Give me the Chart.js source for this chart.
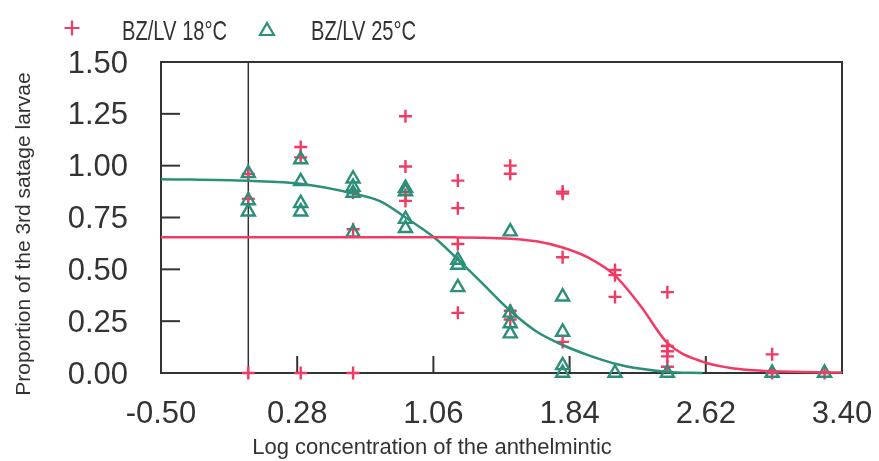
<!DOCTYPE html>
<html>
<head>
<meta charset="utf-8">
<script src="https://cdn.jsdelivr.net/npm/chart.js"></script>
<style>
  html, body { margin: 0; padding: 0; background: #fff; }
  canvas { display: block; }
</style>
</head>
<body>
<canvas id="doseChart" width="879" height="461"></canvas>
<script>
// dose levels (log concentration) where larvae were counted
const doseLevels = [0, 0.3, 0.6, 0.9, 1.2, 1.5, 1.8, 2.1, 2.4, 3.0, 3.3];

// observed proportions, one list per dose level
const obs18 = [
  [0.96, 0.84, 0],
  [1.09, 1.04, 0],
  [0.87, 0.693, 0],
  [1.238, 0.996, 0.86, 0.83],
  [0.928, 0.795, 0.622, 0.29],
  [1.0, 0.961, 0.30, 0.258],
  [0.875, 0.865, 0.558, 0.15],
  [0.497, 0.472, 0.367],
  [0.39, 0.13, 0.105, 0.08, 0.03],
  [0.09, 0],
  [0]
];
const obs25 = [
  [0.963, 0.832, 0.778],
  [1.03, 0.924, 0.819, 0.778],
  [0.937, 0.897, 0.868, 0.677],
  [0.892, 0.875, 0.742, 0.698],
  [0.545, 0.521, 0.413],
  [0.682, 0.29, 0.239, 0.19],
  [0.368, 0.198, 0.037, 0],
  [0],
  [0],
  [0],
  [0]
];

// fitted curves
const curveX = [-0.5, 0, 0.3, 0.6, 0.76, 0.9, 1.07, 1.2, 1.35, 1.5, 1.65, 1.8, 1.95, 2.1, 2.25, 2.4, 2.6, 2.8, 3.0, 3.4];
const fit18 = [0.655, 0.655, 0.655, 0.655, 0.655, 0.655, 0.655, 0.654, 0.652, 0.648, 0.635, 0.605, 0.555, 0.47, 0.32, 0.145, 0.055, 0.02, 0.008, 0.002];
const fit25 = [0.935, 0.927, 0.913, 0.866, 0.827, 0.75, 0.65, 0.548, 0.424, 0.30, 0.20, 0.135, 0.085, 0.045, 0.02, 0.005, 0, null, null, null];

const xTicks = [-0.5, 0.28, 1.06, 1.84, 2.62, 3.4];
const yTicks = [0, 0.25, 0.5, 0.75, 1.0, 1.25, 1.5];

const legendLabels = ["BZ/LV 18\u00B0C", "BZ/LV 25\u00B0C"];
const xTitle = "Log concentration of the anthelmintic";
const yTitle = "Proportion of the 3rd satage larvae";

const RED = "#f23a63";
const GREEN = "#2b8f79";
const INK = "#333333";

function toPoints(levels, lists) {
  const pts = [];
  levels.forEach((x, i) => {
    lists[i].forEach(v => pts.push({ x: x, y: v }));
  });
  return pts;
}

function toCurve(xs, ys) {
  const pts = [];
  xs.forEach((x, i) => {
    if (ys[i] !== null) pts.push({ x: x, y: ys[i] });
  });
  return pts;
}

// frame, inward ticks, the x = 0 reference line
const framePlugin = {
  id: "frame",
  beforeDatasetsDraw(chart) {
    const { ctx, chartArea: a, scales } = chart;
    ctx.save();
    ctx.strokeStyle = INK;
    ctx.lineWidth = 2;
    ctx.strokeRect(a.left, a.top, a.right - a.left, a.bottom - a.top);

    const zx = scales.x.getPixelForValue(0);
    ctx.lineWidth = 1.5;
    ctx.beginPath();
    ctx.moveTo(zx, a.top);
    ctx.lineTo(zx, a.bottom);
    ctx.stroke();

    ctx.lineWidth = 2;
    yTicks.slice(1, -1).forEach(v => {
      const py = scales.y.getPixelForValue(v);
      ctx.beginPath();
      ctx.moveTo(a.left, py);
      ctx.lineTo(a.left + 19, py);
      ctx.stroke();
    });
    xTicks.slice(1, -1).forEach(v => {
      const px = scales.x.getPixelForValue(v);
      ctx.beginPath();
      ctx.moveTo(px, a.bottom);
      ctx.lineTo(px, a.bottom - 17);
      ctx.stroke();
    });
    ctx.restore();
  },
  afterDraw(chart) {
    const ctx = chart.ctx;
    ctx.save();
    ctx.fillStyle = INK;
    ctx.textAlign = "center";
    ctx.textBaseline = "middle";
    ctx.font = "22px 'Liberation Sans', Arial, sans-serif";
    ctx.fillText(xTitle, 432, 448);

    ctx.translate(24, 234);
    ctx.rotate(-Math.PI / 2);
    ctx.font = "21px 'Liberation Sans', Arial, sans-serif";
    ctx.fillText(yTitle, 0, 0);
    ctx.restore();

    // legend along the top (text squeezed to look like the narrow face)
    const marks = [
      { style: "cross", color: RED, x: 72, y: 28, r: 7.5 },
      { style: "triangle", color: GREEN, x: 267, y: 31, r: 8 }
    ];
    const textX = [122, 311];
    marks.forEach((m, i) => {
      ctx.save();
      ctx.strokeStyle = m.color;
      ctx.fillStyle = "rgba(0,0,0,0)";
      ctx.lineWidth = 2.2;
      Chart.helpers.drawPoint(ctx, { pointStyle: m.style, radius: m.r, rotation: 0, borderWidth: 2.2 }, m.x, m.y);
      ctx.fillStyle = INK;
      ctx.textAlign = "left";
      ctx.textBaseline = "alphabetic";
      ctx.font = "28px 'Liberation Sans', Arial, sans-serif";
      ctx.translate(textX[i], 39.5);
      ctx.scale(0.72, 1);
      ctx.fillText(legendLabels[i], 0, 0);
      ctx.restore();
    });
  }
};

const tickFont = { family: "'Liberation Sans', Arial, sans-serif", size: 31 };

new Chart(document.getElementById("doseChart"), {
  type: "scatter",
  data: {
    datasets: [
      {
        label: "fit 18",
        data: toCurve(curveX, fit18),
        showLine: true,
        borderColor: RED,
        borderWidth: 2.5,
        pointRadius: 0,
        cubicInterpolationMode: "monotone",
        clip: false
      },
      {
        label: "fit 25",
        data: toCurve(curveX, fit25),
        showLine: true,
        borderColor: GREEN,
        borderWidth: 2.5,
        pointRadius: 0,
        cubicInterpolationMode: "monotone",
        clip: false
      },
      {
        label: legendLabels[1],
        data: toPoints(doseLevels, obs25),
        pointStyle: "triangle",
        pointRadius: 7.5,
        borderColor: GREEN,
        backgroundColor: "rgba(0,0,0,0)",
        pointBorderWidth: 2.4,
        clip: false
      },
      {
        label: legendLabels[0],
        data: toPoints(doseLevels, obs18),
        pointStyle: "cross",
        pointRadius: 6.5,
        borderColor: RED,
        pointBorderWidth: 2.4,
        clip: false
      }
    ]
  },
  options: {
    responsive: false,
    animation: false,
    devicePixelRatio: 1,
    layout: { padding: { top: 62, right: 37, left: 0, bottom: 0 } },
    plugins: {
      legend: { display: false },
      tooltip: { enabled: false }
    },
    scales: {
      x: {
        type: "linear",
        min: -0.5,
        max: 3.4,
        afterBuildTicks: s => { s.ticks = xTicks.map(v => ({ value: v })); },
        afterFit: s => { s.height = 88; s.paddingLeft = 0; s.paddingRight = 0; },
        grid: { display: false, drawTicks: false },
        border: { display: false },
        ticks: {
          padding: 23,
          color: INK,
          font: tickFont,
          maxRotation: 0,
          callback: v => v.toFixed(2)
        }
      },
      y: {
        type: "linear",
        min: 0,
        max: 1.5,
        afterBuildTicks: s => { s.ticks = yTicks.map(v => ({ value: v })); },
        afterFit: s => { s.width = 161; s.paddingTop = 0; s.paddingBottom = 0; },
        grid: { display: false, drawTicks: false },
        border: { display: false },
        ticks: {
          padding: 33,
          labelOffset: 2,
          color: INK,
          font: tickFont,
          callback: v => v.toFixed(2)
        }
      }
    }
  },
  plugins: [framePlugin]
});
</script>
</body>
</html>
